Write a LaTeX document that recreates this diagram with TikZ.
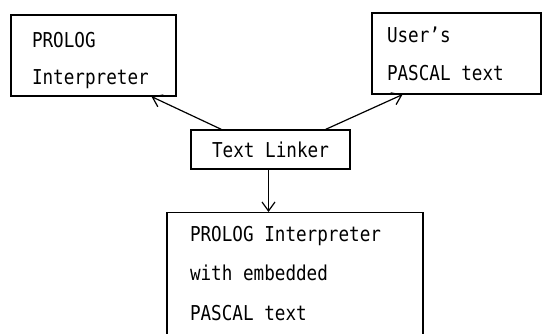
\documentclass[tikz,border=0pt]{standalone}
\usepackage{fontspec}
\newfontfamily\dotfont[FakeStretch=0.86]{DejaVu Sans Mono}
\newcommand{\dotsize}[1]{\dotfont\fontsize{20.5}{#1}\selectfont}
\usepackage{tikz}
\usetikzlibrary{arrows.meta, positioning}

\begin{document}
\begin{tikzpicture}[x=1pt, y=-1pt,
		box/.style={draw, line width=1.2pt, rectangle, font=\dotsize{38pt}, align=flush left, inner ysep=0pt},
		arr/.style={draw, line width=1.2pt, -{Straight Barb[length=9pt, width=13pt]}}]
				\useasboundingbox (0, 0) rectangle (544, 334);
				% Boxes:
				\node[box, font=\dotsize{36.5pt}, minimum height=81pt, text width=123pt, inner xsep=21pt](prolog) at (93.5, 55.5){\rule{0pt}{25pt}PROLOG\\Interpreter};
				\node[box, minimum height=81pt, text width=139pt, inner xsep=15pt](user) at (456.5, 53.5){User’s\\PASCAL text};
				\node[box, minimum height=39pt, minimum width=159pt, align=center](linker) at (270.5, 149.5){Text Linker};
				\begin{scope}
					\clip (0, 0) rectangle (544, 334);
					\node[box, font=\dotsize{39.5pt}, text width=210pt, inner xsep=23pt, inner ysep=13.6pt, anchor=north](result) at (295, 212){PROLOG Interpreter\\with embedded\\PASCAL text\rule[-60pt]{0pt}{60pt}};
				\end{scope}
				% Arrows:
				\draw[arr] ([xshift=31pt]linker.north west) -- ([xshift=58pt]prolog.south);
				\draw[arr] ([xshift=-25pt]linker.north east) -- ([xshift=-54pt]user.south);
				\draw[arr] ([xshift=-2pt]linker.south) -- ([xshift=-2pt]linker.south |- result.north);
			\end{tikzpicture}
\end{document}
